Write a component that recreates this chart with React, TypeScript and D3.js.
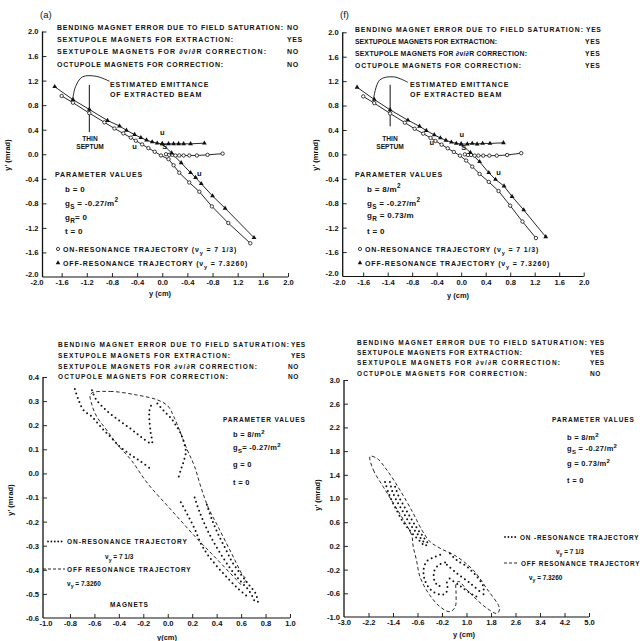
import React, { useEffect, useRef } from "react";
import * as d3 from "d3";

type Pt = [number, number];
type Part = [string, "n" | "sub" | "sup"];

// ---------- tick values and labels (labels listed from low value to high value) ----------
const trajTicks = d3.range(11).map((i) => -2 + i * 0.4);
const trajXLabelsA = ["-2.0", "-1.6", "-1.2", "-0.8", "-0.4", "0.0", "-0.4", "-0.8", "1.2", "1.6", "2.0"];
const trajXLabelsF = ["-2.0", "-1.6", "-1.4", "-0.8", "-0.4", "0.0", "0.4", "0.8", "1.2", "1.6", "2.0"];
const trajYLabels = ["-2.0", "-1.6", "-1.2", "-0.8", "-0.4", "0.0", "0.4", "0.8", "1.2", "1.6", "2.0"];

const detailXTicks = d3.range(11).map((i) => -1 + i * 0.2);
const detailXLabels = ["-1.0", "-0.8", "-0.6", "-0.4", "-0.2", "0.0", "0.2", "0.4", "0.6", "0.8", "1.0"];
const detailYTicks = d3.range(11).map((i) => -0.6 + i * 0.1);
const detailYLabels = ["-0.6", "-0.5", "-0.4", "-0.3", "-0.2", "-0.1", "0.0", "0.1", "0.2", "0.3", "0.4"];

const wideXTicks = d3.range(11).map((i) => -3 + i * 0.8);
const wideXLabels = ["-3.0", "-2.2", "-1.4", "-0.6", "-0.2", "1.0", "1.8", "2.6", "3.4", "4.2", "5.0"];
const wideYTicks = d3.range(11).map((i) => -1 + i * 0.4);
const wideYLabels = ["-1.0", "-0.6", "-0.2", "0.2", "0.6", "1.0", "1.4", "1.8", "2.2", "2.6", "3.0"];

// ---------- header texts ----------
const headerItems = [
  "BENDING MAGNET ERROR DUE TO FIELD SATURATION:",
  "SEXTUPOLE MAGNETS FOR EXTRACTION:",
  "SEXTUPOLE MAGNETS FOR \u2202\u03bd/\u2202R CORRECTION:",
  "OCTUPOLE MAGNETS FOR CORRECTION:",
];
const flagsA = ["NO", "YES", "NO", "NO"];
const flagsF = ["YES", "YES", "YES", "YES"];
const flagsC = ["YES", "YES", "NO", "NO"];
const flagsE = ["YES", "YES", "YES", "NO"];

const paramsA: Part[][] = [
  [["b  = 0", "n"]],
  [["g", "n"], ["S", "sub"], [" = -0.27/m", "n"], ["2", "sup"]],
  [["g", "n"], ["R", "sub"], ["= 0", "n"]],
  [["t  = 0", "n"]],
];
const paramsF: Part[][] = [
  [["b  = 8/m", "n"], ["2", "sup"]],
  [["g", "n"], ["S", "sub"], [" = -0.27/m", "n"], ["2", "sup"]],
  [["g", "n"], ["R", "sub"], [" = 0.73/m", "n"]],
  [["t  = 0", "n"]],
];
const paramsC: Part[][] = [
  [["b = 8/m", "n"], ["2", "sup"]],
  [["g", "n"], ["S", "sub"], ["= -0.27/m", "n"], ["2", "sup"]],
  [["g = 0", "n"]],
  [["t = 0", "n"]],
];
const paramsE: Part[][] = [
  [["b  = 8/m", "n"], ["2", "sup"]],
  [["g", "n"], ["S", "sub"], [" = -0.27/m", "n"], ["2", "sup"]],
  [["g  = 0.73/m", "n"], ["2", "sup"]],
  [["t  = 0", "n"]],
];

// ---------- panel (a) trajectories ----------
const onResA: Pt[] = [
  [-1.6, 0.95], [-1.42, 0.84], [-1.16, 0.67], [-0.92, 0.52], [-0.76, 0.42], [-0.62, 0.34], [-0.5, 0.27],
  [-0.42, 0.22], [-0.32, 0.16], [-0.22, 0.1], [-0.12, 0.04], [-0.02, -0.02], [0.1, -0.08], [0.18, -0.18],
  [0.27, -0.3], [0.43, -0.46], [0.59, -0.61], [0.79, -0.85], [1.05, -1.12], [1.4, -1.45],
];
const onResSideA: Pt[] = [
  [0.06, 0.0], [0.11, -0.01], [0.16, -0.01], [0.21, -0.02], [0.27, -0.02], [0.34, -0.02], [0.43, -0.02],
  [0.55, -0.02], [0.72, -0.01], [0.96, 0.01],
];
const offResA: Pt[] = [
  [-1.71, 1.1], [-1.42, 0.89], [-1.16, 0.73], [-0.87, 0.55], [-0.68, 0.46], [-0.57, 0.39], [-0.44, 0.32],
  [-0.34, 0.27], [-0.25, 0.23], [-0.16, 0.2], [-0.08, 0.18], [0.0, 0.17], [0.15, 0.02], [0.3, -0.14],
  [0.45, -0.3], [0.53, -0.38], [0.62, -0.48], [0.8, -0.68], [1.0, -0.88], [1.46, -1.36],
];
const offResSideA: Pt[] = [
  [0.0, 0.17], [0.1, 0.17], [0.18, 0.17], [0.26, 0.17], [0.34, 0.17], [0.45, 0.17], [0.67, 0.18],
];

// ---------- panel (f) trajectories ----------
const onResF: Pt[] = [
  [-1.6, 0.95], [-1.42, 0.84], [-1.16, 0.67], [-0.92, 0.52], [-0.76, 0.42], [-0.62, 0.34], [-0.5, 0.27],
  [-0.42, 0.22], [-0.32, 0.16], [-0.22, 0.1], [-0.12, 0.04], [-0.02, -0.02], [0.08, -0.1], [0.18, -0.2],
  [0.3, -0.32], [0.45, -0.45], [0.61, -0.6], [0.8, -0.84], [1.0, -1.1], [1.22, -1.37],
];
const onResSideF: Pt[] = [
  [0.06, 0.0], [0.11, -0.01], [0.16, -0.01], [0.22, -0.02], [0.28, -0.02], [0.36, -0.02], [0.46, -0.02],
  [0.58, -0.02], [0.75, -0.01], [0.98, 0.02],
];
const offResF: Pt[] = [
  [-1.7, 1.1], [-1.42, 0.9], [-1.16, 0.73], [-0.87, 0.56], [-0.68, 0.46], [-0.57, 0.39], [-0.44, 0.32],
  [-0.34, 0.27], [-0.25, 0.23], [-0.16, 0.2], [-0.08, 0.18], [0.0, 0.17], [0.15, 0.03], [0.3, -0.12],
  [0.45, -0.3], [0.56, -0.41], [0.7, -0.52], [0.83, -0.69], [1.02, -0.91], [1.38, -1.35],
];
const offResSideF: Pt[] = [
  [0.0, 0.17], [0.1, 0.17], [0.18, 0.18], [0.26, 0.17], [0.35, 0.18], [0.47, 0.18], [0.69, 0.19],
];

// annotation anchors (data coordinates)
const leaderA: Pt[] = [[-0.84, 1.19], [-1.05, 1.27], [-1.27, 1.26], [-1.38, 1.1], [-1.42, 0.92]];
const leaderF: Pt[] = [[-0.87, 1.18], [-1.1, 1.27], [-1.33, 1.22], [-1.43, 0.92]];
const septumA: Pt[] = [[-1.16, 1.13], [-1.16, 0.36]];
const septumF: Pt[] = [[-1.16, 1.14], [-1.16, 0.46]];
const tagsA: [string, number, number][] = [["u", 0.0, 0.31], ["u", -0.44, 0.09], ["u", 0.59, -0.36], ["S", 0.04, 0.08]];
const tagsF: [string, number, number][] = [["u", 0.01, 0.28], ["u", -0.48, 0.15], ["u", 0.61, -0.33], ["S", 0.04, 0.08]];

// ---------- lower-left panel ----------
const offResC: Pt[] = [
  [-0.63, 0.33], [-0.47, 0.34], [-0.25, 0.325], [-0.085, 0.305], [0.0, 0.28], [0.05, 0.235], [0.16, 0.097],
  [0.22, 0.028], [0.27, -0.055], [0.33, -0.14], [0.41, -0.22], [0.52, -0.33], [0.61, -0.42], [0.64, -0.44],
  [0.6, -0.46], [0.56, -0.44], [0.41, -0.36], [0.22, -0.26], [0.025, -0.15], [-0.167, -0.04], [-0.3, 0.056],
  [-0.41, 0.118], [-0.5, 0.18], [-0.58, 0.235], [-0.62, 0.284],
];
const onResC: Pt[][] = [
  [[-0.76, 0.35], [-0.73, 0.305], [-0.69, 0.263], [-0.62, 0.235], [-0.55, 0.194], [-0.47, 0.152], [-0.39, 0.11], [-0.3, 0.076], [-0.22, 0.049], [-0.126, 0.014]],
  [[-0.62, 0.345], [-0.59, 0.31], [-0.5, 0.26], [-0.39, 0.217], [-0.29, 0.18], [-0.21, 0.148], [-0.13, 0.125], [-0.14, 0.17], [-0.15, 0.22], [-0.15, 0.26], [-0.13, 0.29]],
  [[-0.085, 0.29], [-0.03, 0.258], [0.025, 0.23], [0.066, 0.2], [0.107, 0.165], [0.134, 0.125], [0.148, 0.09], [0.134, 0.056], [0.11, 0.02], [0.09, -0.014]],
  [[0.107, -0.12], [0.16, -0.17], [0.22, -0.23], [0.27, -0.29], [0.33, -0.34], [0.41, -0.39], [0.5, -0.44], [0.58, -0.48], [0.65, -0.51]],
  [[0.22, -0.1], [0.26, -0.16], [0.31, -0.22], [0.37, -0.28], [0.44, -0.34], [0.52, -0.4], [0.6, -0.45], [0.67, -0.49], [0.71, -0.53]],
  [[0.32, -0.13], [0.36, -0.19], [0.41, -0.25], [0.47, -0.31], [0.53, -0.37], [0.6, -0.42], [0.66, -0.46], [0.72, -0.5], [0.74, -0.54]],
];

// ---------- lower-right panel ----------
const offResE: Pt[] = [
  [-2.15, 1.71], [-2.04, 1.48], [-1.72, 1.2], [-1.39, 0.92], [-1.06, 0.64], [-0.79, 0.38], [-0.74, 0.19],
  [-0.63, -0.05], [-0.52, -0.32], [-0.24, -0.6], [0.14, -0.83], [0.46, -0.91], [0.63, -0.83], [0.66, -0.6],
  [0.66, -0.44], [0.75, -0.4], [1.01, -0.54], [1.34, -0.71], [1.66, -0.85], [1.99, -0.94], [2.08, -0.86],
  [1.66, -0.52], [1.22, -0.21], [0.68, 0.02], [0.14, 0.16], [-0.19, 0.27], [-0.46, 0.47], [-0.74, 0.75],
  [-1.17, 1.14], [-1.6, 1.48], [-1.93, 1.68],
];
const onResE: Pt[][] = [
  [[-1.66, 1.28], [-1.55, 1.1], [-1.4, 0.92], [-1.25, 0.77], [-1.1, 0.63], [-0.9, 0.49], [-0.7, 0.37], [-0.5, 0.27], [-0.35, 0.18]],
  [[-1.5, 1.28], [-1.42, 1.12], [-1.27, 0.95], [-1.1, 0.8], [-0.95, 0.66], [-0.78, 0.52], [-0.6, 0.4], [-0.45, 0.3], [-0.3, 0.2]],
  [[-1.33, 1.2], [-1.2, 1.02], [-1.05, 0.88], [-0.9, 0.74], [-0.74, 0.6], [-0.58, 0.47], [-0.42, 0.36], [-0.28, 0.26]],
  [[0.14, 0.05], [-0.1, 0.0], [-0.3, -0.06], [-0.4, -0.2], [-0.36, -0.38], [-0.15, -0.55], [0.14, -0.62], [0.32, -0.6], [0.38, -0.48], [0.32, -0.36]],
  [[0.3, -0.08], [0.1, -0.12], [-0.05, -0.22], [-0.05, -0.38], [0.1, -0.48], [0.22, -0.44]],
  [[0.46, 0.07], [0.68, -0.04], [1.01, -0.15], [1.34, -0.32], [1.55, -0.49], [1.55, -0.64]],
  [[0.36, -0.12], [0.68, -0.26], [1.12, -0.43], [1.44, -0.57]],
  [[0.45, -0.35], [0.8, -0.48], [1.23, -0.63], [1.45, -0.68]],
];

const INK = "#111";
const FONT = "'Liberation Sans', Arial, sans-serif";

function richText(g: any, x: number, y: number, parts: Part[], size = 7, anchor = "start") {
  const t = g.append("text").attr("x", x).attr("y", y).attr("font-size", size).attr("text-anchor", anchor);
  let shift = 0;
  parts.forEach(([s, mode]) => {
    const target = mode === "sub" ? size * 0.4 : mode === "sup" ? -size * 0.45 : 0;
    t.append("tspan").attr("dy", target - shift).attr("font-size", mode === "n" ? size : size * 0.8).text(s);
    shift = target;
  });
  return t;
}

function drawFrame(g: any, p: any) {
  const xs = d3.scaleLinear().domain(p.xDomain).range(p.xRange);
  const ys = d3.scaleLinear().domain(p.yDomain).range(p.yRange);
  const yBottom = ys(p.yDomain[0]);
  const xa = g
    .append("g")
    .attr("transform", `translate(0,${yBottom})`)
    .call(
      d3.axisBottom(xs).tickValues(p.xTicks).tickFormat((_d: any, i: number) => p.xLabels[i])
        .tickSizeInner(-4).tickSizeOuter(0).tickPadding(3)
    );
  const ya = g
    .append("g")
    .attr("transform", `translate(${p.axisX},0)`)
    .call(
      d3.axisLeft(ys).tickValues(p.yTicks).tickFormat((_d: any, i: number) => p.yLabels[i])
        .tickSizeInner(-4).tickSizeOuter(0).tickPadding(4)
    );
  [xa, ya].forEach((a) => {
    a.select(".domain").remove();
    a.attr("font-size", 7.6).attr("font-family", FONT).attr("font-weight", "bold");
    a.selectAll("line").attr("stroke", INK).attr("stroke-width", 0.9);
    a.selectAll("text").attr("fill", INK);
  });
  xa.selectAll(".tick").filter((_d: any, i: number) => i === 0).select("line").remove();
  const yMin = ya.selectAll(".tick").filter((_d: any, i: number) => i === 0);
  yMin.select("line").remove();
  if (p.liftMin) yMin.select("text").attr("dy", "-0.1em");
  g.append("line").attr("x1", p.axisX).attr("x2", xs(p.xDomain[1])).attr("y1", yBottom).attr("y2", yBottom)
    .attr("stroke", INK).attr("stroke-width", 1.1);
  g.append("line").attr("x1", p.axisX).attr("x2", p.axisX).attr("y1", ys(p.yDomain[0])).attr("y2", ys(p.yDomain[1]))
    .attr("stroke", INK).attr("stroke-width", 1.3);
  return { xs, ys };
}

// header block: each line is spread out to the width it has in the print
function drawHeader(g: any, x: number, y0: number, step: number, widths: number[], flagX: number[], flags: string[], size: number) {
  headerItems.forEach((s, i) => {
    g.append("text").attr("x", x).attr("y", y0 + i * step).attr("font-size", size)
      .attr("textLength", widths[i]).attr("lengthAdjust", "spacing").text(s);
    g.append("text").attr("x", flagX[i]).attr("y", y0 + i * step).attr("font-size", size).attr("letter-spacing", 0.6).text(flags[i]);
  });
}

function drawParams(g: any, x0: number, y0: number, x1: number, ys: number[], params: Part[][], size: number) {
  g.append("text").attr("x", x0).attr("y", y0).attr("font-size", size).attr("letter-spacing", 0.9).text("PARAMETER VALUES");
  params.forEach((parts, i) => richText(g, x1, ys[i], parts, size + 1).attr("letter-spacing", 0.3));
}

function yLabel(g: any, x: number, y: number) {
  g.append("text").attr("transform", `translate(${x},${y}) rotate(-90)`).attr("text-anchor", "middle")
    .attr("font-size", 7.5).text("y' (mrad)");
}

function drawTrajPanel(g: any, p: any, d: any) {
  const { xs, ys } = drawFrame(g, p);
  const line = d3.line<Pt>().x((v) => xs(v[0])).y((v) => ys(v[1]));
  const curve = d3.line<Pt>().x((v) => xs(v[0])).y((v) => ys(v[1])).curve(d3.curveCatmullRom);
  [d.on, d.onSide, d.off, d.offSide].forEach((s: Pt[]) =>
    g.append("path").attr("d", line(s)).attr("fill", "none").attr("stroke", INK).attr("stroke-width", 0.9)
  );
  g.append("path").attr("d", curve(d.leader)).attr("fill", "none").attr("stroke", INK).attr("stroke-width", 0.9);
  g.append("path").attr("d", line(d.septum)).attr("fill", "none").attr("stroke", INK).attr("stroke-width", 1);
  [...d.on, ...d.onSide].forEach((v: Pt) =>
    g.append("circle").attr("cx", xs(v[0])).attr("cy", ys(v[1])).attr("r", 1.7)
      .attr("fill", "#fff").attr("stroke", INK).attr("stroke-width", 0.8)
  );
  const tri = d3.symbol(d3.symbolTriangle, 10);
  [...d.off, ...d.offSide].forEach((v: Pt) =>
    g.append("path").attr("d", tri()).attr("transform", `translate(${xs(v[0])},${ys(v[1])})`).attr("fill", INK)
  );
  d.tags.forEach(([s, x, y]: [string, number, number]) =>
    g.append("text").attr("x", xs(x)).attr("y", ys(y)).attr("text-anchor", "middle").attr("font-size", 7.5).text(s)
  );
}

function drawContourPanel(g: any, p: any, dotted: Pt[][], dashed: Pt[]) {
  const { xs, ys } = drawFrame(g, p);
  const dots = d3.line<Pt>().x((v) => xs(v[0])).y((v) => ys(v[1])).curve(d3.curveCatmullRom);
  const loop = d3.line<Pt>().x((v) => xs(v[0])).y((v) => ys(v[1])).curve(d3.curveCatmullRomClosed);
  g.append("path").attr("d", loop(dashed)).attr("fill", "none").attr("stroke", INK)
    .attr("stroke-width", 0.9).attr("stroke-dasharray", "3.5 2.5");
  dotted.forEach((s) =>
    g.append("path").attr("d", dots(s)).attr("fill", "none").attr("stroke", INK).attr("stroke-width", 2)
      .attr("stroke-linecap", "round").attr("stroke-dasharray", "0 4.6")
  );
}

const App = () => {
  const ref = useRef<SVGSVGElement>(null);
  useEffect(() => {
    const svg = d3.select(ref.current);
    svg.selectAll("*").remove();
    const root = svg.append("g").attr("font-family", FONT).attr("font-weight", "bold").attr("fill", INK);

    // ----- panel (a) -----
    const gA = root.append("g");
    drawTrajPanel(
      gA,
      { xDomain: [-2, 2], xRange: [36.5, 288], yDomain: [-2, 2], yRange: [277, 31.5], axisX: 42.5, liftMin: true,
        xTicks: trajTicks, xLabels: trajXLabelsA, yTicks: trajTicks, yLabels: trajYLabels },
      { on: onResA, onSide: onResSideA, off: offResA, offSide: offResSideA, leader: leaderA, septum: septumA, tags: tagsA }
    );
    gA.append("text").attr("x", 40).attr("y", 18).attr("font-size", 9.5).attr("font-weight", "normal").text("(a)");
    drawHeader(gA, 57, 30, 12.2, [226, 176, 209, 166], [287, 287, 287, 287], flagsA, 7);
    gA.append("text").attr("x", 110).attr("y", 86.5).attr("font-size", 7).attr("letter-spacing", 0.9).text("ESTIMATED EMITTANCE");
    gA.append("text").attr("x", 110).attr("y", 96.5).attr("font-size", 7).attr("letter-spacing", 0.9).text("OF EXTRACTED BEAM");
    gA.append("text").attr("x", 90).attr("y", 140.5).attr("font-size", 6.6).attr("text-anchor", "middle").text("THIN");
    gA.append("text").attr("x", 90).attr("y", 149).attr("font-size", 6.6).attr("text-anchor", "middle").text("SEPTUM");
    drawParams(gA, 55, 177, 65, [192, 206, 220, 234], paramsA, 7);
    gA.append("circle").attr("cx", 58).attr("cy", 249).attr("r", 1.6).attr("fill", "none").attr("stroke", INK).attr("stroke-width", 0.8);
    richText(gA, 63, 252, [["ON-RESONANCE TRAJECTORY (\u03bd", "n"], ["y", "sub"], [" = 7 1/3)", "n"]], 7).attr("letter-spacing", 0.85);
    gA.append("path").attr("d", d3.symbol(d3.symbolTriangle, 9)()).attr("transform", "translate(58,263)").attr("fill", INK);
    richText(gA, 63, 266, [["OFF-RESONANCE TRAJECTORY (\u03bd", "n"], ["y", "sub"], [" = 7.3260)", "n"]], 7).attr("letter-spacing", 0.85);
    gA.append("text").attr("x", 160).attr("y", 296).attr("font-size", 7.5).attr("text-anchor", "middle").text("y (cm)");
    yLabel(gA, 10, 155);

    // ----- panel (f) -----
    const gF = root.append("g");
    drawTrajPanel(
      gF,
      { xDomain: [-2, 2], xRange: [338.7, 583.7], yDomain: [-2, 2], yRange: [276.5, 32.3], axisX: 342.7, liftMin: true,
        xTicks: trajTicks, xLabels: trajXLabelsF, yTicks: trajTicks, yLabels: trajYLabels },
      { on: onResF, onSide: onResSideF, off: offResF, offSide: offResSideF, leader: leaderF, septum: septumF, tags: tagsF }
    );
    gF.append("text").attr("x", 340).attr("y", 18).attr("font-size", 9.5).attr("font-weight", "normal").text("(f)");
    drawHeader(gF, 355, 32, 12, [228, 142, 172, 166], [586, 585, 585, 585], flagsF, 6.8);
    gF.append("text").attr("x", 410).attr("y", 86.5).attr("font-size", 7).attr("letter-spacing", 0.9).text("ESTIMATED EMITTANCE");
    gF.append("text").attr("x", 410).attr("y", 96.5).attr("font-size", 7).attr("letter-spacing", 0.9).text("OF EXTRACTED BEAM");
    gF.append("text").attr("x", 390).attr("y", 140.5).attr("font-size", 6.6).attr("text-anchor", "middle").text("THIN");
    gF.append("text").attr("x", 390).attr("y", 149).attr("font-size", 6.6).attr("text-anchor", "middle").text("SEPTUM");
    drawParams(gF, 355, 177, 367, [192, 206, 218, 234], paramsF, 7);
    gF.append("circle").attr("cx", 360).attr("cy", 249).attr("r", 1.6).attr("fill", "none").attr("stroke", INK).attr("stroke-width", 0.8);
    richText(gF, 365, 252, [["ON-RESONANCE TRAJECTORY (\u03bd", "n"], ["y", "sub"], [" = 7 1/3)", "n"]], 7).attr("letter-spacing", 0.85);
    gF.append("path").attr("d", d3.symbol(d3.symbolTriangle, 9)()).attr("transform", "translate(360,263)").attr("fill", INK);
    richText(gF, 365, 266, [["OFF-RESONANCE TRAJECTORY (\u03bd", "n"], ["y", "sub"], [" = 7.3260)", "n"]], 7).attr("letter-spacing", 0.85);
    gF.append("text").attr("x", 458).attr("y", 298).attr("font-size", 7.5).attr("text-anchor", "middle").text("y (cm)");
    yLabel(gF, 318, 155);

    // ----- lower-left panel -----
    const gC = root.append("g");
    drawContourPanel(
      gC,
      { xDomain: [-1, 1], xRange: [45.5, 290], yDomain: [-0.6, 0.4], yRange: [618, 377], axisX: 43,
        xTicks: detailXTicks, xLabels: detailXLabels, yTicks: detailYTicks, yLabels: detailYLabels },
      onResC,
      offResC
    );
    drawHeader(gC, 58, 347, 10.8, [231, 172, 199, 170], [291, 291, 288, 288], flagsC, 6.5);
    drawParams(gC, 223, 422, 233, [437, 450, 467, 485], paramsC, 6.5);
    gC.append("line").attr("x1", 48).attr("x2", 64).attr("y1", 541.5).attr("y2", 541.5).attr("stroke", INK)
      .attr("stroke-width", 1.8).attr("stroke-linecap", "round").attr("stroke-dasharray", "0 3.4");
    gC.append("text").attr("x", 67).attr("y", 544).attr("font-size", 6.5).attr("letter-spacing", 0.95).text("ON-RESONANCE TRAJECTORY");
    richText(gC, 105, 559, [["\u03bd", "n"], ["y", "sub"], [" = 7 1/3", "n"]], 6.5);
    gC.append("line").attr("x1", 43).attr("x2", 65).attr("y1", 569).attr("y2", 569).attr("stroke", INK)
      .attr("stroke-width", 0.9).attr("stroke-dasharray", "3 2");
    gC.append("text").attr("x", 67).attr("y", 571.5).attr("font-size", 6.5).attr("letter-spacing", 0.95).text("OFF RESONANCE TRAJECTORY");
    richText(gC, 67, 585.5, [["\u03bd", "n"], ["y", "sub"], [" = 7.3260", "n"]], 6.5);
    gC.append("text").attr("x", 110).attr("y", 606.5).attr("font-size", 6.5).attr("letter-spacing", 0.9).text("MAGNETS");
    gC.append("text").attr("x", 167).attr("y", 640).attr("font-size", 7.5).attr("text-anchor", "middle").text("y(cm)");
    yLabel(gC, 13, 500);

    // ----- lower-right panel -----
    const gE = root.append("g");
    drawContourPanel(
      gE,
      { xDomain: [-3, 5], xRange: [344, 589], yDomain: [-1, 3], yRange: [617, 380], axisX: 344,
        xTicks: wideXTicks, xLabels: wideXLabels, yTicks: wideYTicks, yLabels: wideYLabels },
      onResE,
      offResE
    );
    drawHeader(gE, 357, 345, 10.2, [230, 165, 203, 170], [590, 590, 590, 590], flagsE, 6.5);
    drawParams(gE, 552, 422, 567, [440, 451, 466, 483], paramsE, 6.5);
    gE.append("line").attr("x1", 505).attr("x2", 517).attr("y1", 537).attr("y2", 537).attr("stroke", INK)
      .attr("stroke-width", 1.8).attr("stroke-linecap", "round").attr("stroke-dasharray", "0 3.4");
    gE.append("text").attr("x", 520).attr("y", 539.5).attr("font-size", 6.4).attr("letter-spacing", 0.85).text("ON -RESONANCE TRAJECTORY");
    richText(gE, 556, 553.5, [["\u03bd", "n"], ["y", "sub"], [" = 7 1/3", "n"]], 6.4);
    gE.append("line").attr("x1", 504).attr("x2", 519).attr("y1", 563).attr("y2", 563).attr("stroke", INK)
      .attr("stroke-width", 0.9).attr("stroke-dasharray", "3 2");
    gE.append("text").attr("x", 521).attr("y", 565.5).attr("font-size", 6.4).attr("letter-spacing", 0.8).text("OFF RESONANCE TRAJECTORY");
    richText(gE, 529, 579.5, [["\u03bd", "n"], ["y", "sub"], [" = 7.3260", "n"]], 6.4);
    gE.append("text").attr("x", 464).attr("y", 637).attr("font-size", 7.5).attr("text-anchor", "middle").text("y (cm)");
    yLabel(gE, 320, 495);
  }, []);
  return (
    <svg
      ref={ref}
      width={644}
      height={641}
      style={{ position: "absolute", left: 0, top: 0, background: "#fff" }}
    />
  );
};

export default App;
